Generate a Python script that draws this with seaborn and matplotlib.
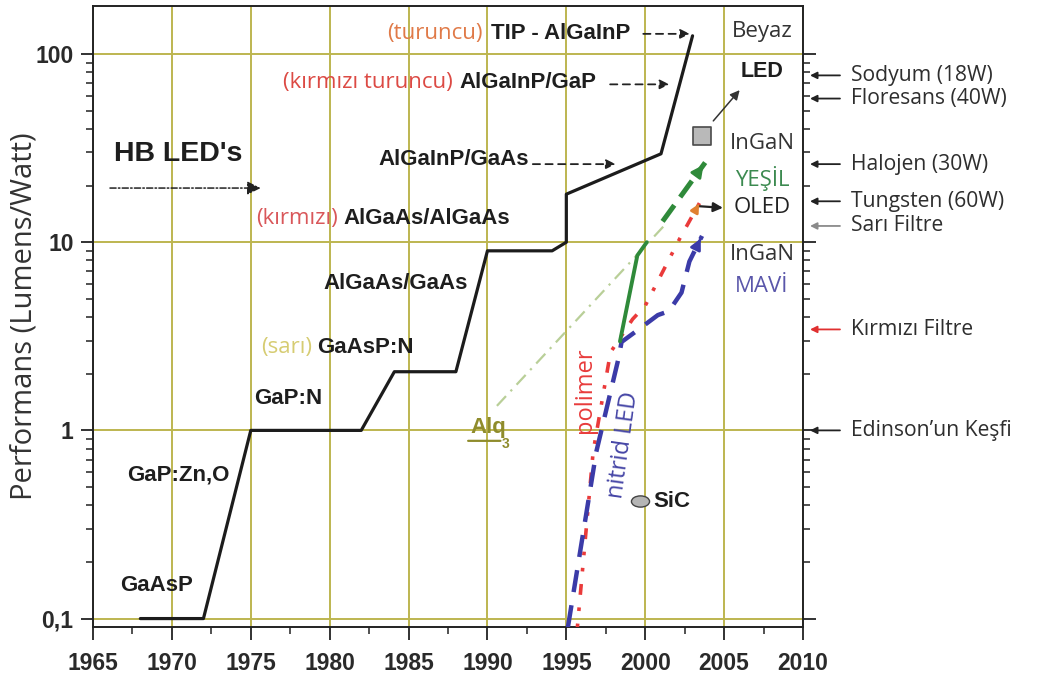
import numpy as np
import pandas as pd
import matplotlib
matplotlib.use("Agg")
import matplotlib.pyplot as plt
import seaborn as sns
from matplotlib.path import Path
from matplotlib.ticker import FixedLocator, FixedFormatter, LogLocator, NullFormatter, MultipleLocator

# --- values (lumens per watt by year) ---
hb_years = [1968, 1972, 1975, 1982, 1984.1, 1988, 1990, 1994.1, 1995, 1995, 2001, 2003]
hb_lmw = [0.1, 0.1, 1, 1, 2.05, 2.05, 9, 9, 10, 18, 29.5, 125]

green_solid_years = [1998.4, 1999.5, 2000.1]
green_solid_lmw = [2.97, 8.5, 10]
green_dash_years = [2001.1, 2003.8]
green_dash_lmw = [12.9, 26.5]

nitride_years = [1995.1, 1996.9, 1998.3, 1998.5, 1999.5, 2000.8, 2001.5, 2002.3, 2002.8, 2003.6]
nitride_lmw = [0.09, 0.77, 2.4, 2.95, 3.4, 4.1, 4.3, 5.4, 7.9, 10.8]

polymer_years = [1995.7, 1996.7, 1997.8, 1999.2, 2000.0, 2002.2, 2003.5]
polymer_lmw = [0.09, 0.77, 2.6, 3.9, 4.6, 10.5, 16.5]

alq3_years = [1990.6, 2001.3]
alq3_lmw = [1.35, 12.5]

white_led_year = [2003.6]
white_led_lmw = [36.6]
sic_year = [1999.7]
sic_lmw = [0.42]

lamp_labels = ["Sodyum (18W)", "Floresans (40W)", "Halojen (30W)", "Tungsten (60W)",
               "Sarı Filtre", "Kırmızı Filtre", "Edinson’un Keşfi"]
lamp_lmw = [77, 58, 26, 16.5, 12.2, 3.44, 1.0]
lamp_colors = ["#222222", "#222222", "#222222", "#222222", "#8a8a8a", "#e03030", "#222222"]

y_ticks = [0.1, 1, 10, 100]
y_ticklabels = ["0,1", "1", "10", "100"]
x_ticks = list(range(1965, 2011, 5))

OLIVE = "#bdb650"
BOLD = ["Liberation Sans", "DejaVu Sans"]
SOFT = ["Open Sans", "DejaVu Sans"]

sns.set_style("ticks")
plt.rcParams["font.family"] = BOLD

fig = plt.figure(figsize=(10.4, 6.77), dpi=100)
ax = fig.add_axes([93 / 1040, 1 - 627 / 677, 710 / 1040, 621 / 677])
ax.set_yscale("log")
ax.set_xlim(1965, 2010)
ax.set_ylim(0.0902, 180)


def line(xs, ys, color, lw, ls="-", z=3):
    df = pd.DataFrame({"yil": xs, "lmw": ys})
    sns.lineplot(data=df, x="yil", y="lmw", ax=ax, color=color, lw=lw, linestyle=ls,
                 sort=False, estimator=None, zorder=z)


def head(xs, ys, color, size=16):
    # arrowhead on the last segment of a series
    x0, x1 = xs[-2], xs[-1]
    l0, l1 = np.log10(ys[-2]), np.log10(ys[-1])
    t = 0.8
    ax.annotate("", xy=(x1, ys[-1]), xytext=(x0 + t * (x1 - x0), 10 ** (l0 + t * (l1 - l0))),
                arrowprops=dict(arrowstyle="-|>", color=color, lw=2, mutation_scale=size), zorder=5)


line(alq3_years, alq3_lmw, "#b9cf98", 1.6, (0, (6, 3, 1, 3)))
line(hb_years, hb_lmw, "#1c1c1c", 2.3)
line(polymer_years, polymer_lmw, "#ea3a3a", 2.6, (0, (1, 3.5, 1, 3.5, 3, 3.5)))
head(polymer_years, polymer_lmw, "#e08030", 12)
line(nitride_years, nitride_lmw, "#3b3ba8", 3.2, (0, (5, 3)))
head(nitride_years, nitride_lmw, "#3b3ba8", 16)
line(green_solid_years, green_solid_lmw, "#2f8a3a", 2.8)
line(green_dash_years, green_dash_lmw, "#2f8a3a", 3.6, (0, (4, 2)))
head(green_dash_years, green_dash_lmw, "#2f8a3a", 18)

sns.scatterplot(x=white_led_year, y=white_led_lmw, ax=ax, marker="s", s=170,
                color="#b9b9b9", edgecolor="#4a4a4a", linewidth=1.2, zorder=6)
circ = Path.unit_circle()
ellipse = Path(circ.vertices * np.array([1.0, 0.62]), circ.codes)
sns.scatterplot(x=sic_year, y=sic_lmw, ax=ax, marker=ellipse, s=170,
                color="#b5b5b5", edgecolor="#444444", linewidth=1.0, zorder=6)

# axes styling
for sp in ax.spines.values():
    sp.set_visible(True)
    sp.set_color("#222222")
    sp.set_linewidth(1.4)
ax.set_xticks(x_ticks)
ax.xaxis.set_minor_locator(MultipleLocator(2.5))
ax.yaxis.set_major_locator(FixedLocator(y_ticks))
ax.yaxis.set_major_formatter(FixedFormatter(y_ticklabels))
ax.yaxis.set_minor_locator(LogLocator(subs=np.arange(2, 10)))
ax.yaxis.set_minor_formatter(NullFormatter())
ax.tick_params(axis="both", which="major", direction="out", length=9, width=1.3,
               color="#222222", labelsize=16.5, labelcolor="#2a2a2a")
ax.tick_params(axis="both", which="minor", direction="out", length=5, width=1.1, color="#222222")
ax.tick_params(axis="y", which="both", right=True, left=True)
ax.tick_params(axis="x", which="major", pad=9)
ax.tick_params(axis="y", which="major", pad=5)
for lab in ax.get_xticklabels() + ax.get_yticklabels():
    lab.set_fontweight("bold")
ax.grid(True, which="major", color=OLIVE, lw=1.4, zorder=0)
ax.set_axisbelow(True)
ax.set_xlabel("")
ax.set_ylabel("Performans (Lumens/Watt)", fontsize=21, family=SOFT, color="#333333")
ax.yaxis.set_label_coords(-0.077, 0.5)


def label(x, y, s, color="#1e1e1e", size=16, weight="bold", family=BOLD, **kw):
    ax.text(x, y, s, color=color, fontsize=size, fontweight=weight, family=family,
            va="center", **kw)


def dashed_arrow(x0, x1, y):
    ax.annotate("", xy=(x1, y), xytext=(x0, y),
                arrowprops=dict(arrowstyle="-|>", color="#222222", lw=1.3,
                                linestyle=(0, (4, 3)), mutation_scale=14))


# material labels
label(1989.7, 128, "(turuncu)", color="#e07a48", weight="normal", family=SOFT, ha="right")
label(1990.2, 128, "TIP - AlGaInP")
dashed_arrow(1999.7, 2003.0, 128)
label(1987.8, 71, "(kırmızı turuncu)", color="#dc4a44", weight="normal", family=SOFT, ha="right")
label(1988.2, 71, "AlGaInP/GaP")
dashed_arrow(1997.6, 2001.7, 69)
label(1983.1, 27.5, "AlGaInP/GaAs")
dashed_arrow(1992.7, 1998.3, 26)
label(1966.3, 29.5, "HB LED's", size=20.5)
ax.annotate("", xy=(1975.8, 19.4), xytext=(1965.9, 19.4),
            arrowprops=dict(arrowstyle="-|>", color="#222222", lw=1.1,
                            linestyle=(0, (4, 1.5, 1, 1.5)), mutation_scale=20))
label(1980.5, 13.4, "(kırmızı)", color="#d9575a", weight="normal", family=SOFT, ha="right")
label(1980.9, 13.4, "AlGaAs/AlGaAs")
label(1979.6, 6.05, "AlGaAs/GaAs")
label(1978.9, 2.76, "(sarı)", color="#d6cc72", weight="normal", family=SOFT, ha="right")
label(1979.2, 2.76, "GaAsP:N")
label(1975.2, 1.48, "GaP:N")
label(1967.15, 0.58, "GaP:Zn,O")
label(1966.7, 0.15, "GaAsP")
label(1988.9, 1.04, "Alq", color="#8f8c2c")
label(1990.9, 0.85, "3", color="#8f8c2c", size=10)
ax.annotate("", xy=(1991.0, 0.88), xytext=(1988.6, 0.88),
            arrowprops=dict(arrowstyle="-", color="#8f8c2c", lw=1.6))
label(1996.2, 1.63, "polimer", color="#e83c3c", weight="normal", family=SOFT, size=17,
      rotation=90, ha="center")
label(1998.6, 0.84, "nitrid LED", color="#4646a6", weight="normal", family=SOFT, size=17,
      rotation=82, ha="center")
label(2000.5, 0.42, "SiC")

# right-hand labels inside the plot
for s, y, c, w in [("Beyaz", 132, "#333333", "normal"), ("LED", 81, "#1e1e1e", "bold"),
                   ("InGaN", 33.6, "#333333", "normal"), ("YEŞİL", 21.9, "#3c8a50", "normal"),
                   ("OLED", 15.2, "#222222", "normal"), ("InGaN", 8.6, "#333333", "normal"),
                   ("MAVİ", 5.8, "#5a56aa", "normal")]:
    label(2007.4, y, s, color=c, weight=w, family=SOFT if w == "normal" else BOLD,
          size=16 if w == "normal" else 15.5, ha="center")

ax.annotate("", xy=(2006.1, 66), xytext=(2004.2, 43),
            arrowprops=dict(arrowstyle="-|>", color="#333333", lw=1.1, mutation_scale=14))
ax.annotate("", xy=(2005.1, 15.2), xytext=(2003.1, 15.6),
            arrowprops=dict(arrowstyle="-|>", color="#222222", lw=1.6, mutation_scale=14))

# reference lamps on the right
tr = ax.get_yaxis_transform()
for s, y, c in zip(lamp_labels, lamp_lmw, lamp_colors):
    ax.annotate("", xy=(1.006, y), xycoords=tr, xytext=(1.056, y), textcoords=tr,
                arrowprops=dict(arrowstyle="-|>", color=c, lw=1.3, mutation_scale=10),
                annotation_clip=False)
    ax.text(1.068, y, s, transform=tr, fontsize=15.2, family=SOFT, color="#2e2e2e",
            va="center", ha="left", clip_on=False)

fig.savefig("out.png", dpi=100)
